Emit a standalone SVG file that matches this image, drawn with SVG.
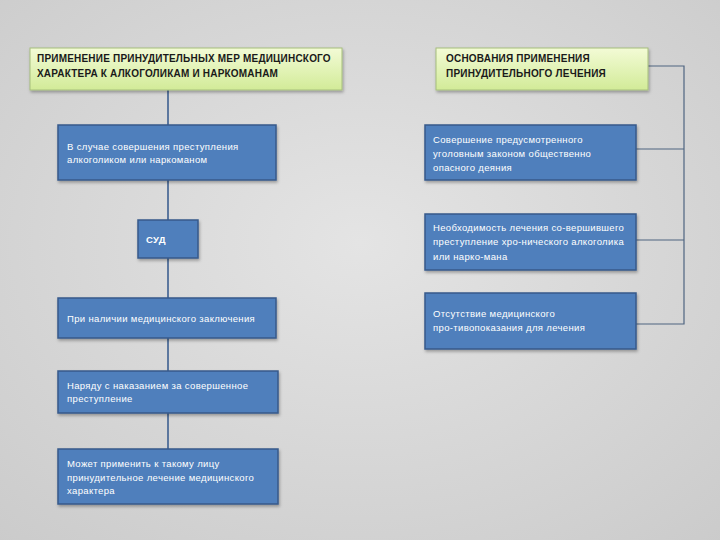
<svg xmlns="http://www.w3.org/2000/svg" width="720" height="540" viewBox="0 0 720 540">
<defs>
<radialGradient id="bg" cx="50%" cy="45%" r="75%">
<stop offset="0" stop-color="#e4e4e4"/>
<stop offset="1" stop-color="#cbcbcb"/>
</radialGradient>
<linearGradient id="gr" x1="0" y1="0" x2="0" y2="1">
<stop offset="0" stop-color="#f3fbd6"/>
<stop offset="1" stop-color="#d2eb98"/>
</linearGradient>
<filter id="sh" x="-10%" y="-20%" width="130%" height="150%">
<feDropShadow dx="1" dy="2" stdDeviation="1.5" flood-color="#000" flood-opacity="0.3"/>
</filter>
</defs>
<style>
.hdr{fill:url(#gr);stroke:#a6be7c;stroke-width:1;filter:url(#sh)}
.box{fill:#4f7fbc;stroke:#37598a;stroke-width:1.5;filter:url(#sh)}
.ht{font-family:"Liberation Sans",Arial,sans-serif;font-size:10px;font-weight:bold;fill:#1a1a1a;letter-spacing:0.2px}
.bt{font-family:"Liberation Sans",Arial,sans-serif;font-size:9.5px;fill:#ffffff;letter-spacing:0.35px}
.ln{fill:none;stroke:#4f6d98;stroke-width:1.8}
.ln2{fill:none;stroke:#4f6480;stroke-width:1.2}
</style>
<rect width="720" height="540" fill="url(#bg)"/>
<g id="connectors">
<line class="ln" x1="168" y1="90" x2="168" y2="125"/>
<line class="ln" x1="168" y1="180" x2="168" y2="220"/>
<line class="ln" x1="168" y1="258" x2="168" y2="298"/>
<line class="ln" x1="168" y1="338" x2="168" y2="371"/>
<line class="ln" x1="168" y1="413" x2="168" y2="449"/>
<polyline class="ln2" points="648,66 684,66 684,324 636,324"/>
<line class="ln2" x1="636" y1="149" x2="684" y2="149"/>
<line class="ln2" x1="636" y1="240" x2="684" y2="240"/>
</g>
<g id="header-left">
<rect class="hdr" x="30" y="48" width="312" height="42"/>
<text class="ht" x="37" y="62">ПРИМЕНЕНИЕ ПРИНУДИТЕЛЬНЫХ МЕР МЕДИЦИНСКОГО</text>
<text class="ht" x="37" y="77">ХАРАКТЕРА К АЛКОГОЛИКАМ  И НАРКОМАНАМ</text>
</g>
<g id="header-right">
<rect class="hdr" x="436" y="48" width="212" height="42"/>
<text class="ht" x="446" y="62">ОСНОВАНИЯ ПРИМЕНЕНИЯ</text>
<text class="ht" x="446" y="77">ПРИНУДИТЕЛЬНОГО ЛЕЧЕНИЯ</text>
</g>
<g id="node-case">
<rect class="box" x="58" y="125" width="218" height="55"/>
<text class="bt" x="67" y="150">В случае совершения преступления</text>
<text class="bt" x="67" y="163">алкоголиком или наркоманом</text>
</g>
<g id="node-court">
<rect class="box" x="138" y="220" width="60" height="38"/>
<text class="bt" x="146" y="243" font-weight="bold">СУД</text>
</g>
<g id="node-conclusion">
<rect class="box" x="58" y="298" width="218" height="40"/>
<text class="bt" x="67" y="322">При наличии медицинского заключения</text>
</g>
<g id="node-punishment">
<rect class="box" x="58" y="371" width="220" height="42"/>
<text class="bt" x="67" y="389">Наряду с наказанием за совершенное</text>
<text class="bt" x="67" y="402">преступление</text>
</g>
<g id="node-apply">
<rect class="box" x="58" y="449" width="220" height="55"/>
<text class="bt" x="67" y="467">Может применить к такому лицу</text>
<text class="bt" x="67" y="481">принудительное лечение медицинского</text>
<text class="bt" x="67" y="494">характера</text>
</g>
<g id="node-ground1">
<rect class="box" x="425" y="125" width="211" height="55"/>
<text class="bt" x="433" y="143">Совершение предусмотренного</text>
<text class="bt" x="433" y="157">уголовным законом общественно</text>
<text class="bt" x="433" y="171">опасного деяния</text>
</g>
<g id="node-ground2">
<rect class="box" x="425" y="214" width="211" height="56"/>
<text class="bt" x="433" y="231">Необходимость лечения со-вершившего</text>
<text class="bt" x="433" y="245">преступление хро-нического алкоголика</text>
<text class="bt" x="433" y="260">или нарко-мана</text>
</g>
<g id="node-ground3">
<rect class="box" x="425" y="293" width="211" height="56"/>
<text class="bt" x="433" y="317">Отсутствие медицинского</text>
<text class="bt" x="433" y="331">про-тивопоказания для лечения</text>
</g>
</svg>
